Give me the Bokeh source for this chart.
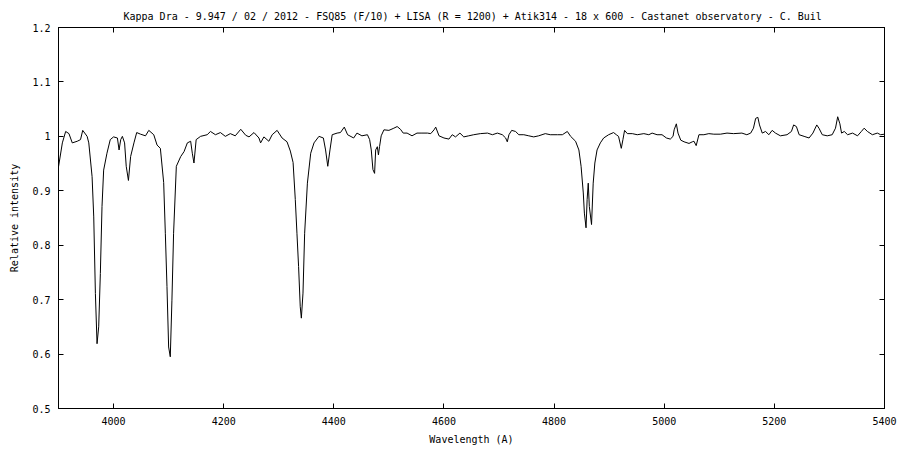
from bokeh.plotting import figure
from bokeh.models import LinearAxis, FixedTicker, CustomJSTickFormatter, Range1d
from bokeh.embed import file_html
from bokeh.resources import INLINE

wavelength = [
    3900, 3907, 3913, 3919, 3925, 3934, 3940, 3944, 3952, 3955, 3961, 3964, 3967, 3970, 3973,
    3976, 3979, 3982, 3988, 3994, 4000, 4007, 4010, 4013, 4016, 4020, 4023, 4027, 4031, 4037,
    4042, 4049, 4058, 4064, 4073, 4079, 4085, 4091, 4094, 4097, 4100, 4103, 4106, 4109, 4114,
    4122, 4128, 4134, 4140, 4143, 4146, 4150, 4158, 4170, 4176, 4185, 4194, 4203, 4212, 4221,
    4231, 4240, 4246, 4255, 4264, 4267, 4273, 4282, 4288, 4297, 4306, 4315, 4321, 4326, 4330,
    4333, 4336, 4339, 4341, 4344, 4347, 4352, 4358, 4364, 4373, 4381, 4385, 4389, 4393, 4397,
    4406, 4412, 4419, 4425, 4436, 4442, 4451, 4461, 4465, 4468, 4471, 4474, 4476, 4479, 4481,
    4483, 4486, 4491, 4500, 4509, 4515, 4521, 4526, 4533, 4542, 4551, 4560, 4570, 4576, 4582,
    4585, 4591, 4600, 4609, 4615, 4621, 4629, 4636, 4645, 4654, 4666, 4679, 4688, 4697, 4706,
    4712, 4715, 4718, 4723, 4730, 4736, 4745, 4754, 4763, 4772, 4784, 4793, 4806, 4815, 4824,
    4830, 4839, 4845, 4849, 4853, 4855, 4858, 4860, 4862, 4864, 4868, 4871, 4874, 4878, 4884,
    4890, 4899, 4908, 4913, 4917, 4922, 4925, 4928, 4933, 4942, 4951, 4963, 4972, 4978, 4987,
    4996, 5004, 5011, 5016, 5018, 5022, 5025, 5030, 5036, 5045, 5051, 5054, 5058, 5063, 5072,
    5081, 5090, 5102, 5114, 5126, 5141, 5150, 5157, 5162, 5166, 5170, 5173, 5178, 5184, 5190,
    5196, 5202, 5211, 5223, 5231, 5235, 5240, 5245, 5254, 5263, 5270, 5277, 5281, 5287, 5296,
    5305, 5311, 5315, 5319, 5322, 5327, 5333, 5342, 5351, 5358, 5363, 5369, 5378, 5387, 5393,
    5400,
]
intensity = [
    0.944, 0.988, 1.009, 1.005, 0.988, 0.991, 0.994, 1.011, 1.000, 0.988, 0.926, 0.852, 0.711, 0.619, 0.650,
    0.748, 0.871, 0.938, 0.969, 0.994, 0.999, 0.997, 0.975, 0.994, 1.000, 0.988, 0.945, 0.919, 0.963, 0.988,
    1.007, 1.004, 1.001, 1.011, 1.003, 0.984, 0.978, 0.915, 0.822, 0.724, 0.613, 0.595, 0.699, 0.822, 0.945,
    0.963, 0.972, 0.988, 0.991, 0.969, 0.951, 0.994, 1.000, 1.003, 1.009, 1.003, 1.007, 1.000, 1.005, 1.001,
    1.013, 1.002, 0.999, 1.007, 0.997, 0.988, 0.999, 0.991, 1.003, 1.011, 0.997, 0.990, 0.973, 0.952, 0.884,
    0.822, 0.761, 0.687, 0.666, 0.712, 0.822, 0.914, 0.969, 0.988, 1.000, 0.997, 0.975, 0.945, 0.975, 1.003,
    1.006, 1.007, 1.017, 1.003, 0.997, 1.006, 1.001, 1.003, 0.994, 0.975, 0.939, 0.932, 0.975, 0.981, 0.966,
    0.981, 1.001, 1.012, 1.011, 1.015, 1.018, 1.013, 1.006, 1.006, 1.001, 1.006, 1.006, 1.006, 1.005, 1.012,
    1.017, 1.001, 0.997, 0.995, 1.003, 0.999, 1.006, 0.999, 1.001, 1.003, 1.005, 1.006, 1.003, 1.006, 1.003,
    0.997, 0.990, 1.003, 1.011, 1.009, 1.003, 1.003, 1.001, 0.999, 1.001, 1.005, 1.003, 1.003, 1.003, 1.009,
    1.000, 0.991, 0.975, 0.945, 0.896, 0.859, 0.832, 0.884, 0.914, 0.871, 0.838, 0.914, 0.951, 0.975, 0.988,
    0.997, 1.003, 1.007, 1.003, 1.000, 0.978, 0.994, 1.011, 1.005, 1.005, 1.003, 1.005, 1.003, 1.006, 1.003,
    1.003, 0.997, 0.995, 1.000, 1.012, 1.023, 1.006, 0.993, 0.990, 0.987, 0.990, 0.991, 0.983, 1.003, 1.003,
    1.005, 1.004, 1.004, 1.006, 1.005, 1.006, 1.003, 1.006, 1.015, 1.033, 1.035, 1.021, 1.006, 1.009, 1.003,
    1.011, 1.006, 1.001, 1.003, 1.009, 1.021, 1.018, 1.003, 1.000, 0.997, 1.006, 1.021, 1.015, 1.003, 1.001,
    1.003, 1.015, 1.036, 1.023, 1.006, 1.009, 1.003, 1.006, 1.001, 1.009, 1.015, 1.009, 1.003, 1.006, 1.003,
    1.004,
]

x_ticks = [4000, 4200, 4400, 4600, 4800, 5000, 5200, 5400]
y_ticks = [0.5, 0.6, 0.7, 0.8, 0.9, 1.0, 1.1, 1.2]
title_text = ("Kappa Dra - 9.947 / 02 / 2012 - FSQ85 (F/10) + LISA (R = 1200) + "
              "Atik314 - 18 x 600 - Castanet observatory - C. Buil")
x_label = "Wavelength (A)"
y_label = "Relative intensity"

FONT = "DejaVu Sans Mono"

p = figure(frame_width=826, frame_height=381, output_backend="svg", toolbar_location=None,
           x_range=Range1d(3900, 5400), y_range=Range1d(0.5, 1.2),
           x_axis_location=None, y_axis_location=None,
           min_border_left=58, min_border_right=15, min_border_top=27, min_border_bottom=41,
           background_fill_color="white", border_fill_color="white")
p.grid.visible = False
p.outline_line_color = "black"
p.outline_line_width = 1

p.title.text = title_text
p.title.text_font = FONT
p.title.text_font_size = "10px"
p.title.text_font_style = "normal"
p.title.text_color = "black"
p.title.align = "left"
p.title.offset = 65
p.title.standoff = 12


def style_axis(ax, ticks, show_labels):
    ax.ticker = FixedTicker(ticks=ticks)
    ax.major_tick_in = 5
    ax.major_tick_out = 0
    ax.minor_tick_line_color = None
    ax.axis_line_color = "black"
    ax.major_tick_line_color = "black"
    ax.major_label_text_font = FONT
    ax.major_label_text_font_size = "10px"
    ax.major_label_text_color = "black"
    ax.axis_label_text_font = FONT
    ax.axis_label_text_font_size = "10px"
    ax.axis_label_text_font_style = "normal"
    ax.axis_label_text_color = "black"
    if not show_labels:
        ax.formatter = CustomJSTickFormatter(code="return ''")
        ax.major_label_standoff = 0


xb = LinearAxis(axis_label=x_label)
style_axis(xb, x_ticks, True)
xb.major_label_standoff = 8
xb.axis_label_standoff = 6
p.add_layout(xb, "below")

yl = LinearAxis(axis_label=y_label)
style_axis(yl, y_ticks, True)
yl.formatter = CustomJSTickFormatter(code="return String(Math.round(tick * 10) / 10)")
yl.major_label_standoff = 8
yl.axis_label_standoff = 9
p.add_layout(yl, "left")

xt = LinearAxis()
style_axis(xt, x_ticks, False)
p.add_layout(xt, "above")

yr = LinearAxis()
style_axis(yr, y_ticks, False)
p.add_layout(yr, "right")

p.line(wavelength, intensity, line_color="black", line_width=1)

open("out.html", "w").write(file_html(p, INLINE))
